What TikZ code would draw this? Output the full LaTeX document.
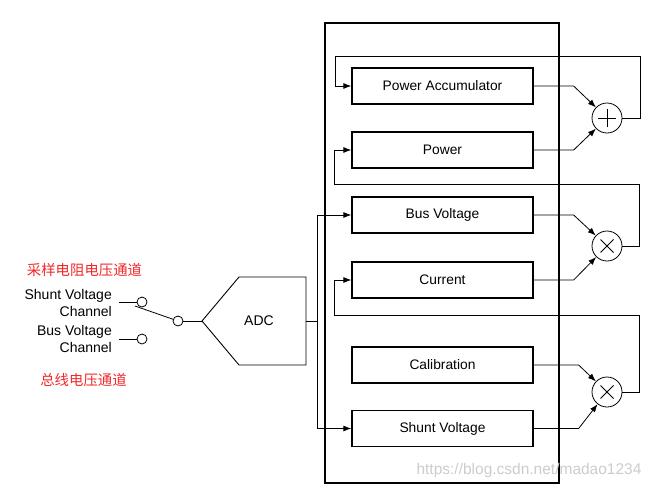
\documentclass[tikz,border=0pt]{standalone}
\usepackage{fontspec}
\setmainfont{Liberation Sans}
\newfontfamily\cjk{Noto Sans CJK SC}
\usetikzlibrary{arrows.meta,calc}
\definecolor{cnred}{RGB}{240,40,40}
\tikzset{
  regbox/.style={draw, line width=1.3pt, minimum width=181pt, minimum height=36pt, inner sep=0pt, font=\fontsize{13.8}{16}\selectfont},
  opc/.style={draw, circle, minimum size=30pt, inner sep=0pt, line width=0.8pt},
  contact/.style={draw, circle, minimum size=10pt, inner sep=0pt, line width=0.8pt},
  wire/.style={line width=0.8pt},
  arr/.style={wire, -{Latex[length=8pt,width=6pt]}},
  lbl/.style={font=\fontsize{14}{17}\selectfont, align=right, anchor=east, inner sep=0pt},
  cnlbl/.style={font=\cjk\fontsize{14.4}{16}\selectfont, text=cnred, inner sep=0pt}
}
\begin{document}
\begin{tikzpicture}[x=1pt,y=-1pt]
\useasboundingbox (0,0) rectangle (652,488);
% outer box
\draw[line width=1.3pt] (325,23) rectangle (559,483);
% registers
\node[regbox] (pa) at (442.5,86) {Power Accumulator};
\node[regbox] (pw) at (442.5,150) {Power};
\node[regbox] (bus) at (442.5,215) {Bus Voltage};
\node[regbox] (cur) at (442.5,280) {Current};
\node[regbox] (cal) at (442.5,365) {Calibration};
\node[regbox] (sh) at (442.5,428.5) {Shunt Voltage};
% operators
\node[opc] (plus) at (607,118) {};
\node[opc] (m1) at (607,246) {};
\node[opc] (m2) at (607,392) {};
\draw[line width=1pt] ($(plus.center)+(-9,0)$) -- ++(18,0) ($(plus.center)+(0,-9)$) -- ++(0,18);
\draw[line width=1pt] ($(m1.center)+(-6.5,-6.5)$) -- ++(13,13) ($(m1.center)+(-6.5,6.5)$) -- ++(13,-13);
\draw[line width=1pt] ($(m2.center)+(-6.5,-6.5)$) -- ++(13,13) ($(m2.center)+(-6.5,6.5)$) -- ++(13,-13);
% inputs to operators
\draw[arr] (pa.east) -- ++(40,0) -- (plus);
\draw[arr] (pw.east) -- ++(40,0) -- (plus);
\draw[arr] (bus.east) -- ++(40,0) -- (m1);
\draw[arr] (cur.east) -- ++(40,0) -- (m1);
\draw[arr] (cal.east) -- ++(45,0) -- (m2);
\draw[arr] (sh.east) -- ++(45,0) -- (m2);
% feedback
\draw[arr] (plus.east) -- ++(18,0) |- (335,56) |- (pa.west);
\draw[arr] (m1.east) -- ++(17,0) |- (334,184) |- (pw.west);
\draw[arr] (m2.east) -- ++(17,0) |- (334,315) |- (cur.west);
% ADC
\coordinate (adcin) at (202,321);
\coordinate (adcout) at (306,321);
\draw[line width=0.9pt] (adcin) -- (239,277) -- (306,277) -- (306,365) -- (239,365) -- cycle;
\node[font=\fontsize{14}{16}\selectfont] (adc) at (259,321) {ADC};
\coordinate (split) at (317,321);
\draw[wire] (adcout) -- (split);
\draw[arr] (split) |- (bus.west);
\draw[arr] (split) |- (sh.west);
% switch
\node[contact] (pole) at (178,321) {};
\node[contact] (c1) at (142,302) {};
\node[contact] (c2) at (142,339) {};
\draw[wire] (pole) -- (adcin);
\draw[wire] (c1.west) -- ++(-18,0);
\draw[wire] (c2.west) -- ++(-18,0);
\coordinate (blade) at (135,306);
\draw[wire] (blade) -- (pole);
% labels
\node[lbl] (l1) at (112,303) {Shunt Voltage\\Channel};
\node[lbl] (l2) at (112,339) {Bus Voltage\\Channel};
\node[cnlbl] (cn1) at (84.5,270) {采样电阻电压通道};
\node[cnlbl] (cn2) at (83.5,380) {总线电压通道};
% watermark
\node[font=\fontsize{15.5}{18}\selectfont, text=black!20, inner sep=0pt] (wm) at (529,470) {https://blog.csdn.net/madao1234};
\end{tikzpicture}
\end{document}
